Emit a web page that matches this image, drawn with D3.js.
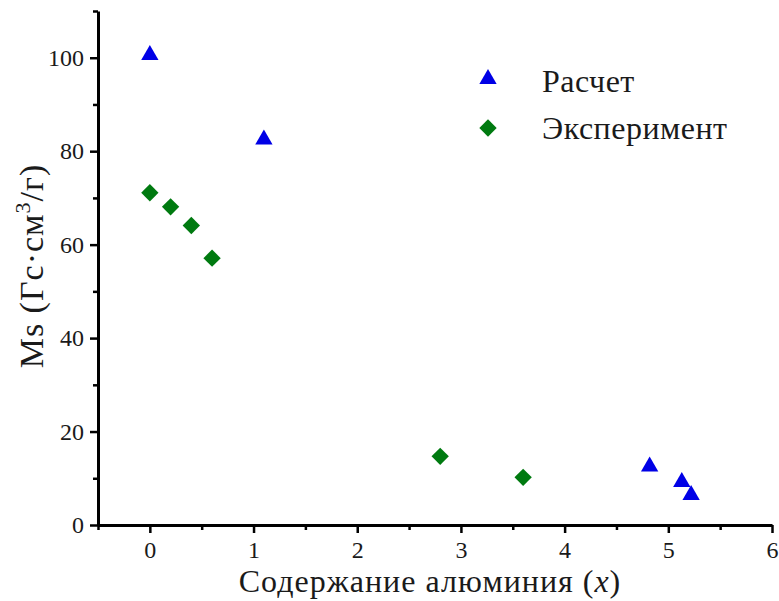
<!DOCTYPE html>
<html>
<head>
<meta charset="utf-8">
<script src="https://cdn.jsdelivr.net/npm/d3@7"></script>
<style>
  body { margin: 0; background: #fff; }
  text { font-family: "Liberation Serif", "Times New Roman", serif; fill: #1a1a1a; }
</style>
</head>
<body>
<div id="chart"></div>
<script>
// data
const calcX = [0, 1.1, 4.82, 5.13, 5.22],
      calcY = [100.6, 82.5, 12.5, 9.2, 6.4];
const expX = [0, 0.2, 0.4, 0.6, 2.8, 3.6],
      expY = [71.1, 68.1, 64.1, 57.1, 14.7, 10.2];
const xTicks = [0, 1, 2, 3, 4, 5, 6],
      xMinor = [-0.5, 0.5, 1.5, 2.5, 3.5, 4.5, 5.5],
      yTicks = [0, 20, 40, 60, 80, 100],
      yMinor = [10, 30, 50, 70, 90, 110];
const seriesNames = ['Расчет', 'Эксперимент'];

const width = 779,
      height = 601;

const svg = d3.select('#chart')
              .append('svg')
              .attr('width', width)
              .attr('height', height);

const x = d3.scaleLinear().domain([-0.5, 6]).range([98, 772]);
const y = d3.scaleLinear().domain([0, 110]).range([525, 11]);

// minor ticks
svg.append('g')
   .attr('transform', 'translate(0,' + y(0) + ')')
   .call(d3.axisBottom(x).tickValues(xMinor).tickSize(5).tickFormat(''))
   .call(g => g.select('.domain').remove())
   .selectAll('line').style('stroke-width', '2.5px');

svg.append('g')
   .attr('transform', 'translate(' + x(-0.5) + ',0)')
   .call(d3.axisLeft(y).tickValues(yMinor).tickSize(5).tickFormat(''))
   .call(g => g.select('.domain').remove())
   .selectAll('line').style('stroke-width', '2.5px');

// major axes
const xAxis = svg.append('g')
                 .attr('transform', 'translate(0,' + y(0) + ')')
                 .call(d3.axisBottom(x).tickValues(xTicks).tickFormat(d3.format('d'))
                         .tickSize(8).tickSizeOuter(0).tickPadding(8));
xAxis.select('.domain').style('stroke-width', '3px');
xAxis.selectAll('line').style('stroke-width', '2.5px');
xAxis.selectAll('text').style('font-size', '24px').style('font-family', '"Liberation Serif", serif');

const yAxis = svg.append('g')
                 .attr('transform', 'translate(' + x(-0.5) + ',0)')
                 .call(d3.axisLeft(y).tickValues(yTicks).tickFormat(d3.format('d'))
                         .tickSize(8).tickSizeOuter(0).tickPadding(6));
yAxis.select('.domain').style('stroke-width', '3px');
yAxis.selectAll('line').style('stroke-width', '2.5px');
yAxis.selectAll('text').style('font-size', '24px').style('font-family', '"Liberation Serif", serif');

// markers
const tri = d3.symbol().type(d3.symbolTriangle).size(130);
const dia = d3.symbol().type(d3.symbolSquare).size(150);

svg.append('g').selectAll('path')
   .data(calcX.map((d, i) => [d, calcY[i]]))
   .join('path')
   .attr('d', tri)
   .attr('fill', '#0000e6')
   .attr('transform', d => 'translate(' + x(d[0]) + ',' + y(d[1]) + ')');

svg.append('g').selectAll('path')
   .data(expX.map((d, i) => [d, expY[i]]))
   .join('path')
   .attr('d', dia)
   .attr('fill', '#007a10')
   .attr('transform', d => 'translate(' + x(d[0]) + ',' + y(d[1]) + ') rotate(45)');

// legend
const legend = svg.append('g');
legend.append('path').attr('d', tri).attr('fill', '#0000e6').attr('transform', 'translate(488,79)');
legend.append('path').attr('d', dia).attr('fill', '#007a10').attr('transform', 'translate(488,128) rotate(45)');
legend.selectAll('text')
      .data(seriesNames)
      .join('text')
      .attr('x', 542)
      .attr('y', (d, i) => 92 + i * 47)
      .style('font-size', '32px')
      .style('letter-spacing', '0.5px')
      .text(d => d);

// axis titles
const xt = svg.append('text')
              .attr('x', 430)
              .attr('y', 592)
              .attr('text-anchor', 'middle')
              .style('font-size', '32px')
              .style('letter-spacing', '1px');
xt.append('tspan').text('Содержание алюминия (');
xt.append('tspan').style('font-style', 'italic').text('x');
xt.append('tspan').text(')');

const yt = svg.append('text')
              .attr('transform', 'translate(43,266) rotate(-90)')
              .attr('text-anchor', 'middle')
              .style('font-size', '34px')
              .style('letter-spacing', '1px');
yt.append('tspan').text('Ms (Гс·см');
yt.append('tspan').attr('dy', -13).style('font-size', '22px').text('3');
yt.append('tspan').attr('dy', 13).text('/г)');
</script>
</body>
</html>
